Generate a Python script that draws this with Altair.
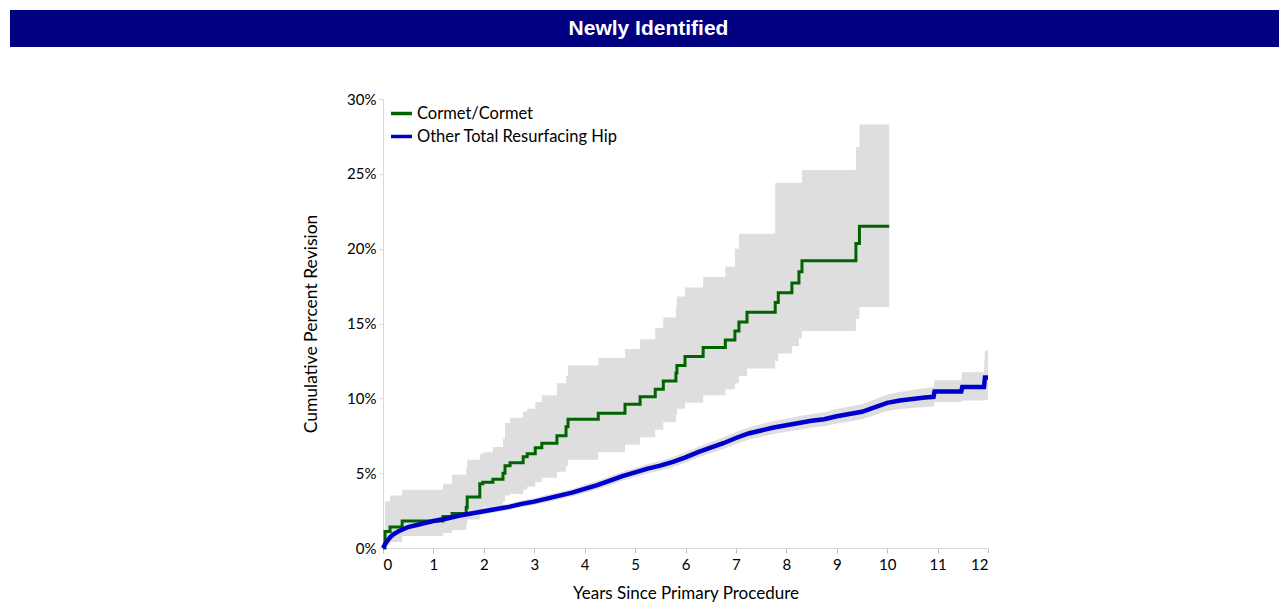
import altair as alt
import pandas as pd

# ---------------- data ----------------
series_names = ["Cormet/Cormet", "Other Total Resurfacing Hip"]

g_t = [0, 0.04, 0.14, 0.38, 1.19, 1.37, 1.65, 1.67, 1.92, 1.98, 2.18, 2.38, 2.42, 2.52, 2.78, 2.86,
       3.02, 3.15, 3.45, 3.63, 3.67, 4.27, 4.80, 5.10, 5.40, 5.56, 5.81, 5.83, 5.99, 6.35, 6.79,
       6.98, 7.06, 7.22, 7.78, 7.84, 8.11, 8.25, 8.31, 9.38, 9.45, 10.04]
g_est = [0, 1.1, 1.4, 1.8, 2.1, 2.3, 2.7, 3.4, 4.3, 4.4, 4.6, 5.0, 5.5, 5.7, 6.1, 6.3,
         6.7, 7.0, 7.5, 8.1, 8.6, 9.0, 9.6, 10.1, 10.6, 11.15, 11.7, 12.2, 12.8, 13.4, 13.9,
         14.5, 15.1, 15.75, 16.4, 17.05, 17.7, 18.45, 19.2, 20.35, 21.5, 21.5]
g_lo = [0, 0.2, 0.4, 0.8, 1.0, 1.2, 1.5, 1.9, 2.6, 2.7, 2.8, 3.1, 3.5, 3.6, 3.9, 4.1,
        4.4, 4.7, 5.1, 5.5, 5.9, 6.4, 6.9, 7.4, 7.9, 8.4, 8.9, 9.3, 9.7, 10.2, 10.6,
        11.0, 11.5, 12.0, 12.5, 13.0, 13.5, 14.0, 14.5, 15.3, 16.1, 16.1]
g_hi = [0, 3.1, 3.5, 3.9, 4.3, 4.9, 5.4, 5.9, 6.3, 6.4, 6.75, 7.3, 8.35, 8.7, 9.1, 9.3,
        9.75, 10.2, 11.0, 11.5, 12.2, 12.7, 13.3, 13.95, 14.7, 15.4, 16.2, 16.8, 17.4, 18.1, 18.8,
        20.0, 21.0, 21.0, 24.4, 24.4, 24.4, 24.4, 25.25, 26.8, 28.3, 28.3]

b_t = [0, 0.05, 0.1, 0.15, 0.2, 0.3, 0.4, 0.5, 0.75, 1.0, 1.25, 1.5, 1.75, 2.0, 2.25, 2.5,
       2.75, 3.0, 3.25, 3.5, 3.75, 4.0, 4.25, 4.5, 4.75, 5.0, 5.25, 5.5, 5.75, 6.0, 6.25,
       6.5, 6.75, 7.0, 7.25, 7.5, 7.75, 8.0, 8.25, 8.5, 8.75, 9.0, 9.25, 9.5, 9.75, 10.0,
       10.25, 10.5, 10.75, 10.92, 10.94, 11.47, 11.49, 11.92, 11.94, 12.0]
b_est = [0, 0.3, 0.55, 0.75, 0.9, 1.1, 1.25, 1.4, 1.6, 1.8, 1.95, 2.15, 2.3, 2.45, 2.6, 2.75,
         2.95, 3.1, 3.3, 3.5, 3.7, 3.95, 4.2, 4.5, 4.8, 5.05, 5.3, 5.5, 5.75, 6.05, 6.4,
         6.7, 7.0, 7.35, 7.65, 7.85, 8.05, 8.2, 8.35, 8.5, 8.6, 8.8, 8.95, 9.1, 9.4, 9.7,
         9.85, 9.95, 10.05, 10.1, 10.45, 10.45, 10.75, 10.75, 11.4, 11.4]
b_lo = [0, 0.15, 0.4, 0.6, 0.75, 0.95, 1.1, 1.25, 1.45, 1.62, 1.77, 1.95, 2.1, 2.25, 2.4, 2.55,
        2.72, 2.87, 3.05, 3.25, 3.45, 3.68, 3.92, 4.2, 4.5, 4.75, 4.98, 5.18, 5.42, 5.7, 6.05,
        6.33, 6.62, 6.95, 7.25, 7.43, 7.62, 7.77, 7.9, 8.05, 8.13, 8.32, 8.45, 8.6, 8.87, 9.15,
        9.28, 9.35, 9.42, 9.45, 9.75, 9.75, 9.85, 9.85, 9.9, 9.9]
b_hi = [0, 0.45, 0.7, 0.9, 1.05, 1.25, 1.4, 1.55, 1.75, 1.98, 2.13, 2.35, 2.5, 2.65, 2.8, 2.95,
        3.18, 3.33, 3.55, 3.75, 3.95, 4.22, 4.48, 4.8, 5.1, 5.35, 5.62, 5.82, 6.08, 6.4, 6.75,
        7.07, 7.38, 7.75, 8.05, 8.27, 8.48, 8.63, 8.8, 8.95, 9.07, 9.28, 9.45, 9.6, 9.93, 10.25,
        10.42, 10.55, 10.68, 10.75, 11.2, 11.2, 11.75, 11.75, 13.2, 13.2]

x_ticks = list(range(0, 13))
y_ticks = [0, 5, 10, 15, 20, 25, 30]
banner_text = "Newly Identified"

# ---------------- tables ----------------
g_df = pd.DataFrame({"series": series_names[0], "t": g_t, "est": g_est, "lo": g_lo, "hi": g_hi})
b_df = pd.DataFrame({"series": series_names[1], "t": b_t, "est": b_est, "lo": b_lo, "hi": b_hi})

FONT = "Lato"
AXIS_GREY = "#D9D9D9"

x_enc = alt.X("t:Q", scale=alt.Scale(domain=[0, 12], nice=False),
              axis=alt.Axis(values=x_ticks, title="Years Since Primary Procedure",
                            grid=False, domainColor=AXIS_GREY, tickColor="#BFBFBF",
                            tickSize=5, labelFontSize=15, titleFontSize=17,
                            labelFont=FONT, titleFont=FONT, titleFontWeight="normal",
                            labelColor="#000000", titleColor="#000000",
                            labelPadding=4, titlePadding=13))

y_scale = alt.Scale(domain=[0, 30], nice=False)
y_axis = alt.Axis(values=y_ticks, labelExpr="datum.value + '%'",
                  title="Cumulative Percent Revision", grid=False,
                  domainColor=AXIS_GREY, tickColor=AXIS_GREY, tickSize=4,
                  labelFontSize=15, titleFontSize=17.5, labelFont=FONT, titleFont=FONT,
                  titleFontWeight="normal", labelColor="#000000",
                  titleColor="#000000", labelPadding=3, titlePadding=26)

color_enc = alt.Color("series:N",
                      scale=alt.Scale(domain=series_names, range=["#006400", "#0000CD"]),
                      legend=alt.Legend(title=None, orient="none", legendX=6, legendY=2,
                                        symbolType="stroke", symbolSize=440,
                                        symbolStrokeWidth=3.5, labelFontSize=16.5,
                                        labelFont=FONT, labelColor="#000000",
                                        labelLimit=0, rowPadding=2, padding=0,
                                        labelOffset=3))

g_band = alt.Chart(g_df).mark_area(interpolate="step-after", color="#DEDEDE", opacity=1).encode(
    x=x_enc, y=alt.Y("lo:Q", scale=y_scale, axis=y_axis), y2="hi:Q")
b_band = alt.Chart(b_df).mark_area(interpolate="linear", color="#DEDEDE", opacity=1).encode(
    x=x_enc, y=alt.Y("lo:Q", scale=y_scale, axis=y_axis), y2="hi:Q")

g_line = alt.Chart(g_df).mark_line(interpolate="step-after", strokeWidth=3).encode(
    x=x_enc, y=alt.Y("est:Q", scale=y_scale, axis=y_axis), color=color_enc)
b_line = alt.Chart(b_df).mark_line(interpolate="linear", strokeWidth=4.5).encode(
    x=x_enc, y=alt.Y("est:Q", scale=y_scale, axis=y_axis), color=color_enc)

deco = pd.DataFrame({"k": [0]})
banner = alt.Chart(deco).mark_rect(color="#000080").encode(
    x=alt.value(-373), x2=alt.value(904), y=alt.value(-89), y2=alt.value(-52))
banner_label = alt.Chart(deco).mark_text(
    text=banner_text, color="white", font="Liberation Sans", fontSize=21,
    fontWeight="bold", align="center", baseline="middle").encode(
    x=alt.value(265.5), y=alt.value(-70.5))

chart = alt.layer(g_band, b_band, g_line, b_line, banner, banner_label).properties(
    width=605, height=449,
    autosize=alt.AutoSizeParams(type="none"),
    padding={"left": 375, "top": 91, "right": 291, "bottom": 56},
).configure_view(stroke=None)

chart.save("out.html", embed_options={"renderer": "svg", "actions": False})
